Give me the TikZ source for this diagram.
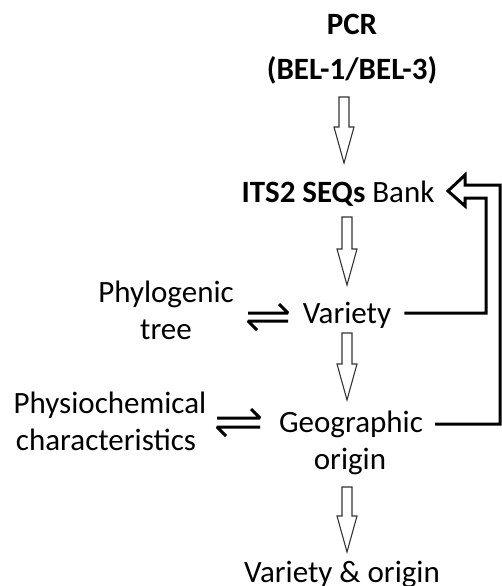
\documentclass[tikz,border=0pt]{standalone}
\usepackage{fontspec}
\setmainfont{Carlito}
\newcommand\hollowdown[3]{%
  \draw[hollow] (#1-5,#2) -- (#1+5,#2) -- (#1+5,#3-36) -- (#1+10,#3-36) -- (#1,#3) -- (#1-10,#3-36) -- (#1-5,#3-36) -- cycle;}
\begin{document}
\begin{tikzpicture}[x=1pt,y=-1pt,
  txt/.style={inner sep=0pt, anchor=base, font=\fontsize{31}{37}\selectfont},
  hollow/.style={draw=black!80, line width=1.1pt, fill=white, line join=miter},
  fb/.style={draw, line width=3pt, line join=miter},
  eq/.style={line width=3pt, line cap=butt, line join=bevel}]
\useasboundingbox (0,0) rectangle (502,586);
\node[txt] (pcr) at (352,35) {\bfseries PCR};
\node[txt] (bel) at (352,80) {\bfseries (BEL-1/BEL-3)};
\node[txt] (its) at (338,202) {\textbf{ITS2 SEQs} Bank};
\node[txt] (var) at (347,323) {Variety};
\node[txt] (phy1) at (166,302) {Phylogenic};
\node[txt] (phy2) at (166,339) {tree};
\node[txt] (chem1) at (110,413) {Physiochemical};
\node[txt] (chem2) at (106,450) {characteristics};
\node[txt] (geo1) at (351,432) {Geographic};
\node[txt] (geo2) at (350,469) {origin};
\node[txt] (vo) at (342,582) {Variety \& origin};
% hollow flow arrows
\hollowdown{344}{97}{163}
\hollowdown{347}{217}{285}
\hollowdown{347}{333}{400}
\hollowdown{347}{487}{552}
% equilibrium harpoons
\draw[eq] (248,313) -- (288,313) -- (279,304);
\draw[eq] (288,321) -- (248,321) -- (257,330);
\draw[eq] (217,418) -- (260,418) -- (251,409);
\draw[eq] (260,427) -- (217,427) -- (226,436);
% feedback arrow
\coordinate (fbtip) at (448,191);
\draw[fb] (var.base east) ++(13,-10) -- (486,313) -- (486,198) -- (465,198) -- (465,206) -- (fbtip) -- (465,175) -- (465,185) -- (500,185) -- (500,424) -- (435,424);
\end{tikzpicture}
\end{document}
